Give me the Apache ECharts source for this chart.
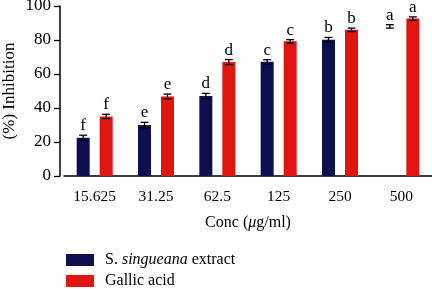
<!DOCTYPE html>
<html>
<head>
<meta charset="utf-8">
<script src="https://cdn.jsdelivr.net/npm/echarts@6/dist/echarts.min.js"></script>
<style>html,body{margin:0;padding:0;background:#fff}#c{width:432px;height:289px}</style>
</head>
<body>
<div id="c"></div>
<script>
const categories = ['15.625', '31.25', '62.5', '125', '250', '500'];
const extractValues = [22.5, 30, 47, 67.2, 80.2, 88];
const extractErrors = [1.5, 1.6, 1.6, 1.2, 1.3, 1.0];
const extractLetters = ['f', 'e', 'd', 'c', 'b', 'a'];
const extractBarHidden = [false, false, false, false, false, true];
const gallicValues = [35, 46.8, 67, 79.2, 86, 92.6];
const gallicErrors = [1.3, 1.4, 1.5, 1.0, 1.0, 1.0];
const gallicLetters = ['f', 'e', 'd', 'c', 'b', 'a'];
const yTicks = [0, 20, 40, 60, 80, 100];

const NAVY = '#0d0e4e';
const RED = '#e01510';
const BAR_W = 13;
const GAP_PX = 10;
const FONT = '"Liberation Serif", "DejaVu Serif", serif';

function errRender(sign, letters) {
  return function (params, api) {
    const idx = api.value(0), val = api.value(1), err = api.value(2);
    const x = api.coord([idx, val])[0] + sign * (BAR_W + GAP_PX) / 2;
    const yT = api.coord([idx, val + err])[1];
    const yB = api.coord([idx, val - err])[1];
    const cap = 4;
    const st = { stroke: '#000', lineWidth: 1.3 };
    return {
      type: 'group',
      children: [
        { type: 'line', shape: { x1: x, y1: yT, x2: x, y2: yB }, style: st },
        { type: 'line', shape: { x1: x - cap, y1: yT, x2: x + cap, y2: yT }, style: st },
        { type: 'line', shape: { x1: x - cap, y1: yB, x2: x + cap, y2: yB }, style: st },
        { type: 'text', x: x, y: yT - 1, style: { text: letters[idx], fill: '#000', font: '17px ' + FONT, align: 'center', verticalAlign: 'bottom' } }
      ]
    };
  };
}

const legendText = {
  color: '#000', fontFamily: FONT, fontSize: 16, padding: [0, 0, 0, 6],
  rich: { n: { fontFamily: FONT, fontSize: 16, color: '#000' }, i: { fontFamily: FONT, fontSize: 16, fontStyle: 'italic', color: '#000' } }
};
function legendFmt(n) {
  if (n === 'S. singueana extract') return '{n|S. }{i|singueana}{n| extract}';
  return '{n|' + n + '}';
}

const chart = echarts.init(document.getElementById('c'), null, { renderer: 'canvas' });
chart.setOption({
  animation: false,
  backgroundColor: '#fff',
  grid: { left: 64, right: 0, top: 6, bottom: 113, containLabel: false, outerBoundsMode: 'none' },
  legend: [
    { left: 66, top: 252, itemWidth: 28, itemHeight: 12, padding: 0, icon: 'rect', selectedMode: false,
      data: ['S. singueana extract'], formatter: legendFmt, textStyle: legendText },
    { left: 66, top: 273, itemWidth: 28, itemHeight: 12, padding: 0, icon: 'rect', selectedMode: false,
      data: ['Gallic acid'], formatter: legendFmt, textStyle: legendText }
  ],
  xAxis: {
    type: 'category', data: categories,
    axisLine: { lineStyle: { color: '#000', width: 1.5 } },
    axisTick: { alignWithLabel: true, length: 6, lineStyle: { color: '#000', width: 1.3 } },
    axisLabel: { color: '#000', fontFamily: FONT, fontSize: 15.5, margin: 13 },
    name: 'Conc ({i|μ}g/ml)', nameLocation: 'middle', nameGap: 39,
    nameTextStyle: { color: '#000', fontFamily: FONT, fontSize: 16,
      rich: { i: { fontFamily: FONT, fontSize: 16, fontStyle: 'italic', color: '#000' } } }
  },
  yAxis: {
    type: 'value', min: 0, max: 100, interval: 20, offset: 4,
    axisLine: { show: true, lineStyle: { color: '#000', width: 1.5 } },
    axisTick: { show: true, length: 6, lineStyle: { color: '#000', width: 1.3 } },
    splitLine: { show: false },
    axisLabel: { color: '#000', fontFamily: FONT, fontSize: 17, margin: 9,
      formatter: function (v) { return yTicks.indexOf(v) >= 0 ? String(v) : ''; } },
    name: '(%) Inhibition', nameLocation: 'middle', nameGap: 42, nameRotate: 90, nameMoveOverlap: false,
    nameTextStyle: { color: '#000', fontFamily: FONT, fontSize: 17 }
  },
  series: [
    {
      name: 'S. singueana extract', type: 'bar', barWidth: BAR_W, barGap: (GAP_PX / BAR_W * 100) + '%',
      itemStyle: { color: NAVY },
      data: extractValues.map(function (v, i) { return extractBarHidden[i] ? { value: v, itemStyle: { opacity: 0 } } : v; })
    },
    {
      name: 'Gallic acid', type: 'bar', barWidth: BAR_W,
      itemStyle: { color: RED },
      data: gallicValues
    },
    {
      type: 'custom', renderItem: errRender(-1, extractLetters), z: 5,
      encode: { x: 0, y: 1 },
      data: extractValues.map(function (v, i) { return [i, v, extractErrors[i]]; })
    },
    {
      type: 'custom', renderItem: errRender(1, gallicLetters), z: 5,
      encode: { x: 0, y: 1 },
      data: gallicValues.map(function (v, i) { return [i, v, gallicErrors[i]]; })
    }
  ]
});
</script>
</body>
</html>
